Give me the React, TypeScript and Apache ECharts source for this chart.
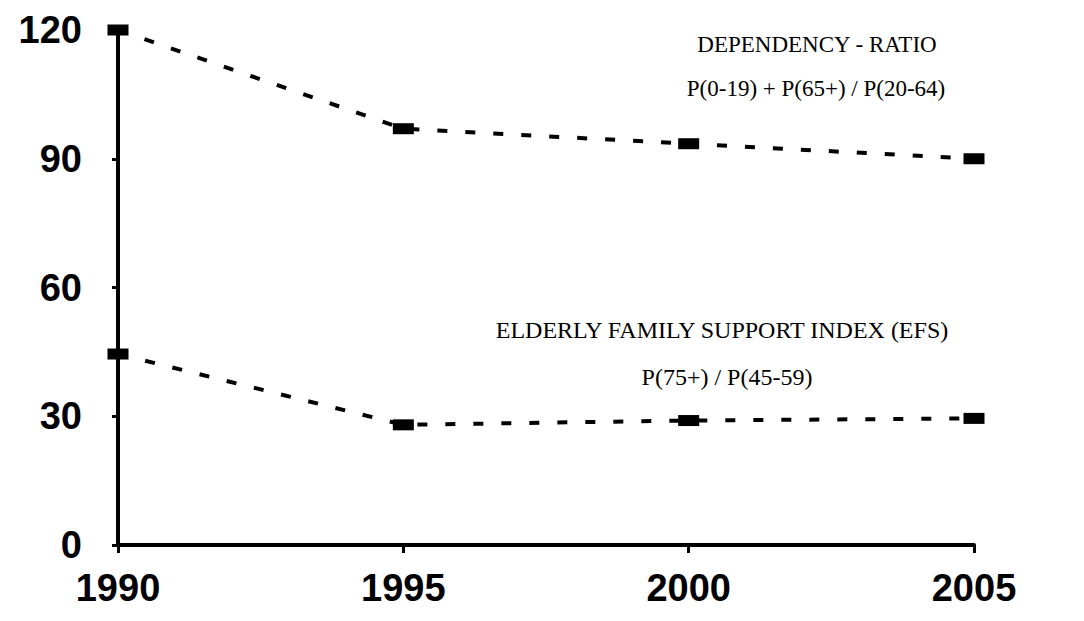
import React, { useEffect, useRef } from "react";
import * as echarts from "echarts";

const years = ["1990", "1995", "2000", "2005"];
const dependencyRatio = [120, 97, 93.5, 90];
const efsIndex = [44.5, 28, 29, 29.5];
const yTicks = { min: 0, max: 120, interval: 30 };
const labels = {
  dep1: "DEPENDENCY - RATIO",
  dep2: "P(0-19) + P(65+) / P(20-64)",
  efs1: "ELDERLY FAMILY SUPPORT INDEX (EFS)",
  efs2: "P(75+) / P(45-59)",
};

export default function App() {
  const ref = useRef<HTMLDivElement>(null);
  useEffect(() => {
    if (!ref.current) return;
    const chart = echarts.init(ref.current, null, { renderer: "svg" });
    const lineSeries = (name: string, data: number[]) => ({
      name,
      type: "line",
      data,
      symbol: "rect",
      symbolSize: [21, 11],
      itemStyle: { color: "#000" },
      lineStyle: { color: "#000", width: 4, type: [10, 18] },
    });
    const serif = "'Liberation Serif', 'Times New Roman', serif";
    const sans = "'Liberation Sans', Arial, sans-serif";
    chart.setOption({
      animation: false,
      backgroundColor: "#fff",
      grid: { left: 118, right: 110, top: 30, bottom: 76 },
      xAxis: {
        type: "category",
        data: years,
        boundaryGap: false,
        axisLine: { lineStyle: { color: "#000", width: 4 } },
        axisTick: { show: true, length: 8, lineStyle: { color: "#000", width: 3 } },
        axisLabel: {
          color: "#000",
          fontSize: 38,
          fontWeight: "bold",
          fontFamily: sans,
          margin: 24,
        },
        splitLine: { show: false },
      },
      yAxis: {
        type: "value",
        min: yTicks.min,
        max: yTicks.max,
        interval: yTicks.interval,
        axisLine: { show: true, lineStyle: { color: "#000", width: 4 } },
        axisTick: { show: true, length: 6, lineStyle: { color: "#000", width: 3 } },
        axisLabel: {
          color: "#000",
          fontSize: 38,
          fontWeight: "bold",
          fontFamily: sans,
          margin: 36,
        },
        splitLine: { show: false },
      },
      series: [
        lineSeries("Dependency ratio", dependencyRatio),
        lineSeries("EFS", efsIndex),
      ],
      graphic: [
        {
          type: "text",
          x: 817,
          y: 44,
          style: { text: labels.dep1, fill: "#000", font: `23px ${serif}`, align: "center", verticalAlign: "middle" },
        },
        {
          type: "text",
          x: 816,
          y: 88,
          style: { text: labels.dep2, fill: "#000", font: `23px ${serif}`, align: "center", verticalAlign: "middle" },
        },
        {
          type: "text",
          x: 722,
          y: 330,
          style: { text: labels.efs1, fill: "#000", font: `24px ${serif}`, align: "center", verticalAlign: "middle" },
        },
        {
          type: "text",
          x: 727,
          y: 377,
          style: { text: labels.efs2, fill: "#000", font: `24px ${serif}`, align: "center", verticalAlign: "middle" },
        },
      ],
    });
    return () => chart.dispose();
  }, []);
  return <div ref={ref} style={{ width: 1084, height: 621, position: "absolute", left: 0, top: 0 }} />;
}
